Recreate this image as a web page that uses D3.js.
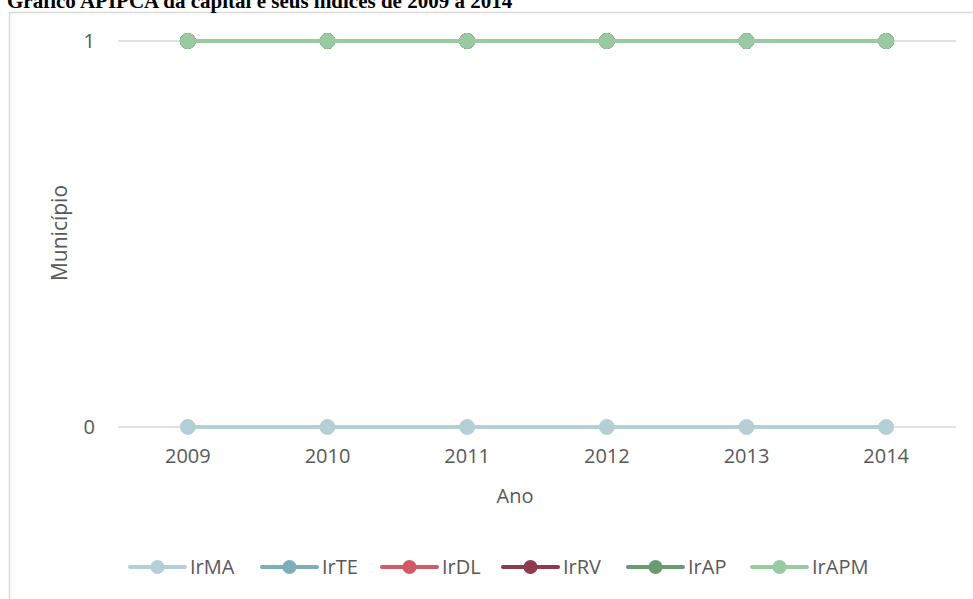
<!DOCTYPE html>
<html>
<head>
<meta charset="utf-8">
<title>Grafico APIPCA</title>
<script type="text/javascript" src="https://cdn.jsdelivr.net/npm/d3@7"></script>
<style>
body { margin: 0; background: #fff; overflow: hidden; }
</style>
</head>
<body>
<div id="chart"></div>
<script type="text/javascript">
// data
let anos = ["2009", "2010", "2011", "2012", "2013", "2014"];
let IrMA  = [0, 0, 0, 0, 0, 0];
let IrTE  = [1, 1, 1, 1, 1, 1];
let IrDL  = [1, 1, 1, 1, 1, 1];
let IrRV  = [1, 1, 1, 1, 1, 1];
let IrAP  = [1, 1, 1, 1, 1, 1];
let IrAPM = [1, 1, 1, 1, 1, 1];
let yTicks = [0, 1];

let series = [
    {name: "IrMA",  values: IrMA,  color: "#b4cfd5"},
    {name: "IrTE",  values: IrTE,  color: "#7eaeb8"},
    {name: "IrDL",  values: IrDL,  color: "#d25a66"},
    {name: "IrRV",  values: IrRV,  color: "#8d3a4e"},
    {name: "IrAP",  values: IrAP,  color: "#699a71"},
    {name: "IrAPM", values: IrAPM, color: "#9acaa2"}
];

let svgWidth = 973, svgHeight = 599;
let margin = {top: 41, left: 118, right: 17, bottom: 172};
let width = svgWidth - margin.left - margin.right,
    height = svgHeight - margin.top - margin.bottom;

let svg = d3.select("#chart").append("svg")
    .attr("width", svgWidth)
    .attr("height", svgHeight);

// chart area border (runs off the page on the right and bottom)
svg.append("rect")
    .attr("x", 9.5).attr("y", 12.5)
    .attr("width", 1000).attr("height", 700)
    .attr("fill", "#fff")
    .attr("stroke", "#d9d9d9")
    .attr("stroke-width", 1.5);

svg.append("text")
    .attr("x", 7)
    .attr("y", 8)
    .attr("font-family", "Liberation Serif")
    .attr("font-weight", "bold")
    .attr("font-size", "21px")
    .attr("fill", "#000")
    .text("Gráfico APIPCA da capital e seus índices de 2009 a 2014");

let x = d3.scaleBand().domain(anos).range([0, width]);
let y = d3.scaleLinear().domain([0, 1]).range([height, 0]);

let g = svg.append("g")
    .attr("transform", "translate(" + margin.left + "," + margin.top + ")");

// gridlines
g.selectAll(".grid")
    .data(yTicks)
    .enter()
    .append("line")
    .attr("x1", 0).attr("x2", width)
    .attr("y1", d => y(d)).attr("y2", d => y(d))
    .attr("stroke", "#d9d9d9")
    .attr("stroke-width", 1.5);

let yAxis = g.append("g")
    .call(d3.axisLeft(y).tickValues(yTicks).tickFormat(d3.format("d")).tickSize(0).tickPadding(23));
yAxis.select(".domain").remove();

let xAxis = g.append("g")
    .attr("transform", "translate(0," + height + ")")
    .call(d3.axisBottom(x).tickSize(0).tickPadding(22));
xAxis.select(".domain").remove();

svg.selectAll(".tick text")
    .attr("font-family", "Open Sans")
    .attr("font-size", "20px")
    .attr("fill", "#595959");

svg.append("text")
    .attr("x", 515)
    .attr("y", height + margin.top + 76)
    .attr("text-anchor", "middle")
    .attr("font-family", "Open Sans")
    .attr("font-size", "20px")
    .attr("fill", "#595959")
    .text("Ano");

svg.append("text")
    .attr("transform", "translate(67," + (margin.top + height / 2 - 1) + ") rotate(-90)")
    .attr("text-anchor", "middle")
    .attr("font-family", "Open Sans")
    .attr("font-size", "21px")
    .attr("fill", "#595959")
    .text("Município");

let line = d3.line()
    .x((d, i) => x(anos[i]) + x.bandwidth() / 2)
    .y(d => y(d));

let lines = g.selectAll(".serie")
    .data(series)
    .enter()
    .append("g");

lines.append("path")
    .attr("d", d => line(d.values))
    .attr("fill", "none")
    .attr("stroke", d => d.color)
    .attr("stroke-width", 4)
    .attr("stroke-linecap", "round");

lines.selectAll("circle")
    .data(d => d.values.map(v => ({v: v, color: d.color})))
    .enter()
    .append("circle")
    .attr("cx", (d, i) => x(anos[i]) + x.bandwidth() / 2)
    .attr("cy", d => y(d.v))
    .attr("r", 7.5)
    .attr("fill", d => d.color)
    .attr("stroke", d => d.color)
    .attr("stroke-width", 1);

// legend
let legendX = [130, 262, 382, 503, 628, 752];
let legend = svg.selectAll(".legend")
    .data(series)
    .enter()
    .append("g")
    .attr("transform", (d, i) => "translate(" + legendX[i] + ",567)");

legend.append("line")
    .attr("x1", 0).attr("x2", 55)
    .attr("stroke", d => d.color)
    .attr("stroke-width", 4)
    .attr("stroke-linecap", "round");

legend.append("circle")
    .attr("cx", 27.5)
    .attr("r", 7)
    .attr("fill", d => d.color);

legend.append("text")
    .attr("x", 60)
    .attr("dy", "0.35em")
    .attr("font-family", "Open Sans")
    .attr("font-size", "20px")
    .attr("fill", "#595959")
    .text(d => d.name);
</script>
</body>
</html>
